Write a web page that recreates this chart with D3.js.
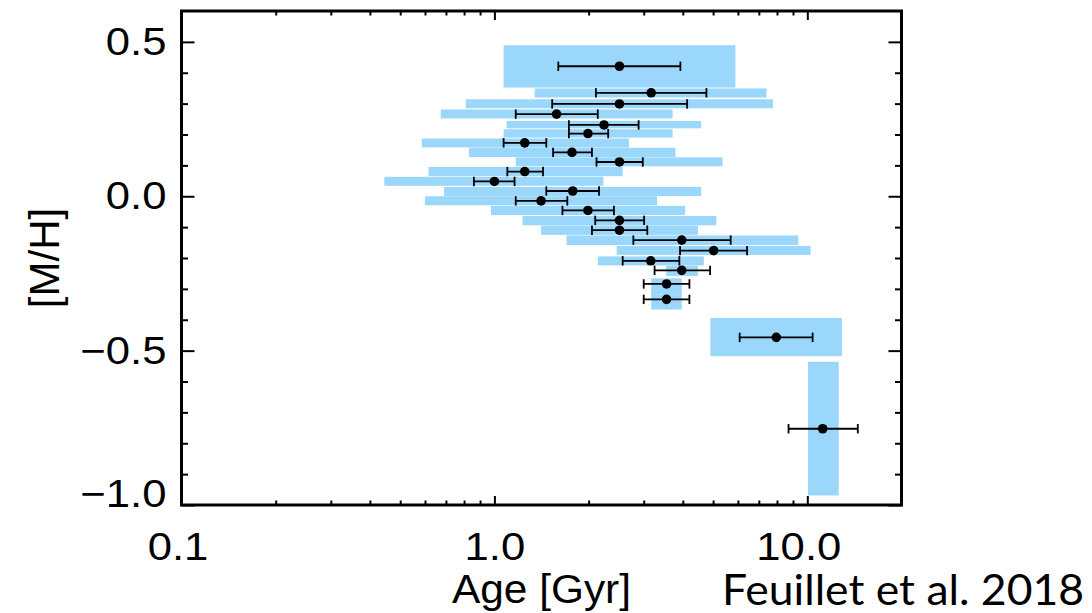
<!DOCTYPE html>
<html><head><meta charset="utf-8">
<script src="https://cdn.jsdelivr.net/npm/d3@7"></script>
<style>body{margin:0;background:#fff}</style>
</head><body>
<svg id="c" width="1092" height="613"></svg>
<script>
// ---- data ----
const mh       = [0.421, 0.335, 0.299, 0.266, 0.231, 0.203, 0.173, 0.142, 0.111, 0.080, 0.048, 0.017, -0.015, -0.046, -0.078, -0.110, -0.142, -0.176, -0.209, -0.240, -0.284, -0.334, -0.457, -0.753];
const age      = [2.51, 3.17, 2.51, 1.58, 2.24, 1.99, 1.25, 1.77, 2.51, 1.25, 1.00, 1.78, 1.41, 1.99, 2.51, 2.51, 3.97, 5.02, 3.16, 3.97, 3.55, 3.55, 7.96, 11.2];
const ageLo    = [1.60, 2.11, 1.53, 1.17, 1.73, 1.73, 1.07, 1.54, 2.12, 1.10, 0.86, 1.465, 1.17, 1.65, 2.10, 2.05, 2.78, 3.92, 2.57, 3.25, 3.00, 3.00, 6.08, 8.71];
const ageHi    = [3.93, 4.76, 4.13, 2.14, 2.89, 2.31, 1.465, 2.05, 2.98, 1.43, 1.16, 2.16, 1.71, 2.41, 3.01, 3.08, 5.69, 6.42, 3.90, 4.89, 4.20, 4.20, 10.4, 14.5];
const boxAgeMin = [1.07, 1.345, 0.81, 0.674, 1.094, 1.07, 0.586, 0.83, 1.17, 0.616, 0.445, 0.69, 0.60, 0.975, 1.23, 1.41, 1.70, 2.46, 2.14, 3.54, 3.17, 3.17, 4.90, 10.05];
const boxAgeMax = [5.89, 7.41, 7.77, 3.71, 4.58, 3.71, 2.69, 3.79, 5.36, 2.57, 2.23, 4.58, 3.31, 4.07, 5.12, 4.47, 9.36, 10.24, 4.67, 4.47, 3.97, 3.97, 12.9, 12.6];
const boxMhMin = [0.352, 0.320, 0.285, 0.252, 0.220, 0.190, 0.158, 0.127, 0.097, 0.065, 0.034, 0.001, -0.029, -0.061, -0.094, -0.125, -0.158, -0.190, -0.224, -0.258, -0.317, -0.367, -0.518, -0.969];
const boxMhMax = [0.489, 0.349, 0.314, 0.281, 0.244, 0.217, 0.187, 0.157, 0.126, 0.095, 0.063, 0.030, 0.000, -0.031, -0.064, -0.095, -0.127, -0.161, -0.195, -0.225, -0.266, -0.317, -0.394, -0.536];

const xMajor = [0.1, 1, 10];
const xMajorLabels = ["0.1", "1.0", "10.0"];
const xMinor = [0.2,0.3,0.4,0.5,0.6,0.7,0.8,0.9,2,3,4,5,6,7,8,9];
const yMajor = [0.5, 0.0, -0.5, -1.0];
const yMajorLabels = ["0.5", "0.0", "\u22120.5", "\u22121.0"];
const yMinor = [-0.9,-0.8,-0.7,-0.6,-0.4,-0.3,-0.2,-0.1,0.1,0.2,0.3,0.4];

// ---- layout ----
const L = 181.5, R = 901.5, T = 11, B = 505;
const svg = d3.select("#c");
const x = d3.scaleLog().domain([0.1, 20]).range([L, R]);
const y = d3.scaleLinear().domain([-1.0, 0.6]).range([B, T]);
const boxColor = "#9bd6fb";
const font = "'Liberation Sans', Arial, Helvetica, sans-serif";
const sx = 1.12; // horizontal stretch of the original figure text

// boxes
const idx = d3.range(mh.length);
svg.append("g").selectAll("rect").data(idx).join("rect")
  .attr("x", i => x(boxAgeMin[i]))
  .attr("width", i => x(boxAgeMax[i]) - x(boxAgeMin[i]))
  .attr("y", i => y(boxMhMax[i]))
  .attr("height", i => y(boxMhMin[i]) - y(boxMhMax[i]))
  .attr("fill", boxColor);

// error bars
const eb = svg.append("g").attr("stroke", "#000").attr("stroke-width", 1.8);
eb.selectAll("line.h").data(idx).join("line").attr("class","h")
  .attr("x1", i => x(ageLo[i])).attr("x2", i => x(ageHi[i]))
  .attr("y1", i => y(mh[i])).attr("y2", i => y(mh[i]));
eb.selectAll("line.cl").data(idx).join("line").attr("class","cl")
  .attr("x1", i => x(ageLo[i])).attr("x2", i => x(ageLo[i]))
  .attr("y1", i => y(mh[i]) - 4.7).attr("y2", i => y(mh[i]) + 4.7);
eb.selectAll("line.ch").data(idx).join("line").attr("class","ch")
  .attr("x1", i => x(ageHi[i])).attr("x2", i => x(ageHi[i]))
  .attr("y1", i => y(mh[i]) - 4.7).attr("y2", i => y(mh[i]) + 4.7);

// points
svg.append("g").selectAll("circle").data(idx).join("circle")
  .attr("cx", i => x(age[i])).attr("cy", i => y(mh[i])).attr("r", 4.8).attr("fill", "#000");

// ---- axes ----
function styleAxis(g) {
  g.select(".domain").remove();
  g.selectAll(".tick line").attr("stroke", "#000").attr("stroke-width", 2);
}
const xLabelShift = [-4, 0, -9];
// bottom
const gb = svg.append("g").attr("transform", `translate(0,${B})`)
  .call(d3.axisBottom(x).tickValues(xMajor).tickSize(-9).tickPadding(27)
    .tickFormat((d, i) => xMajorLabels[i]));
styleAxis(gb);
gb.selectAll("text").attr("font-family", font).attr("font-size", 39).attr("fill", "#000")
  .attr("x", (d, i) => xLabelShift[i] / sx)
  .attr("transform", `scale(${sx},1)`);
const gbm = svg.append("g").attr("transform", `translate(0,${B})`)
  .call(d3.axisBottom(x).tickValues(xMinor).tickSize(-4.5).tickFormat(""));
styleAxis(gbm);
// top
const gt = svg.append("g").attr("transform", `translate(0,${T})`)
  .call(d3.axisTop(x).tickValues(xMajor).tickSize(-9).tickFormat(""));
styleAxis(gt);
const gtm = svg.append("g").attr("transform", `translate(0,${T})`)
  .call(d3.axisTop(x).tickValues(xMinor).tickSize(-4.5).tickFormat(""));
styleAxis(gtm);
// left
const gl = svg.append("g").attr("transform", `translate(${L},0)`)
  .call(d3.axisLeft(y).tickValues(yMajor).tickSize(-13).tickPadding(15)
    .tickFormat((d, i) => yMajorLabels[i]));
styleAxis(gl);
gl.selectAll("text").attr("font-family", font).attr("font-size", 39).attr("fill", "#000")
  .attr("x", -15 / sx).attr("transform", `scale(${sx},1)`);
gl.selectAll(".tick").filter(d => d === -1.0).select("text").attr("y", -11);
const glm = svg.append("g").attr("transform", `translate(${L},0)`)
  .call(d3.axisLeft(y).tickValues(yMinor).tickSize(-6.5).tickFormat(""));
styleAxis(glm);
// right
const gr = svg.append("g").attr("transform", `translate(${R},0)`)
  .call(d3.axisRight(y).tickValues(yMajor).tickSize(-13).tickFormat(""));
styleAxis(gr);
const grm = svg.append("g").attr("transform", `translate(${R},0)`)
  .call(d3.axisRight(y).tickValues(yMinor).tickSize(-6.5).tickFormat(""));
styleAxis(grm);

// frame
svg.append("rect").attr("x", L).attr("y", T).attr("width", R - L).attr("height", B - T)
  .attr("fill", "none").attr("stroke", "#000").attr("stroke-width", 3);

// axis titles
svg.append("text").attr("transform", `translate(${(L + R) / 2},603) scale(${1.06},1)`)
  .attr("text-anchor", "middle").attr("font-family", font).attr("font-size", 40).attr("fill", "#000")
  .text("Age [Gyr]");
svg.append("text").attr("transform", `translate(59,${(T + B) / 2}) rotate(-90)`)
  .attr("text-anchor", "middle").attr("font-family", font).attr("font-size", 42).attr("fill", "#000")
  .text("[M/H]");

// citation
svg.append("text").attr("x", 722).attr("y", 605)
  .attr("font-family", "Lato, 'Open Sans', sans-serif").attr("font-size", 42).attr("fill", "#000")
  .attr("textLength", 362).attr("lengthAdjust", "spacingAndGlyphs")
  .text("Feuillet et al. 2018");
</script>
</body></html>
